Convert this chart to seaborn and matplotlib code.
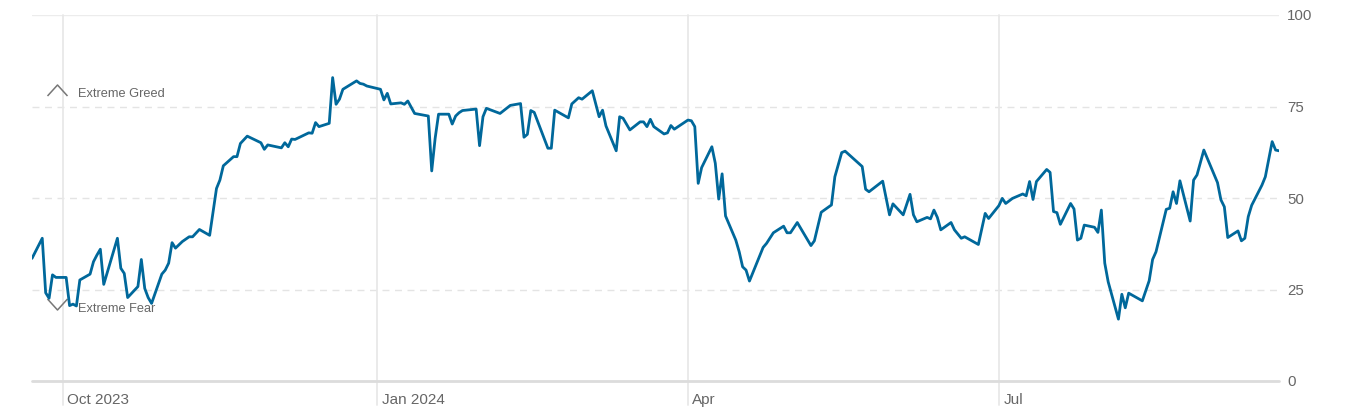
import matplotlib
matplotlib.use("Agg")
import matplotlib.pyplot as plt
import matplotlib.transforms as mtransforms
from matplotlib.path import Path
import pandas as pd
import seaborn as sns

# ---------------- data ----------------
dates = [
    "2023-09-22", "2023-09-25", "2023-09-26", "2023-09-27", "2023-09-28", "2023-09-29",
    "2023-10-02", "2023-10-03", "2023-10-04", "2023-10-05", "2023-10-06", "2023-10-09",
    "2023-10-10", "2023-10-11", "2023-10-12", "2023-10-13", "2023-10-17", "2023-10-18",
    "2023-10-19", "2023-10-20", "2023-10-23", "2023-10-24", "2023-10-25", "2023-10-26",
    "2023-10-27", "2023-10-30", "2023-10-31", "2023-11-01", "2023-11-02", "2023-11-03",
    "2023-11-05", "2023-11-07", "2023-11-08", "2023-11-10", "2023-11-13", "2023-11-15",
    "2023-11-16", "2023-11-17", "2023-11-20", "2023-11-21", "2023-11-22", "2023-11-24",
    "2023-11-28", "2023-11-29", "2023-11-30", "2023-12-04", "2023-12-05", "2023-12-06",
    "2023-12-07", "2023-12-08", "2023-12-12", "2023-12-13", "2023-12-14", "2023-12-15",
    "2023-12-18", "2023-12-19", "2023-12-20", "2023-12-21", "2023-12-22", "2023-12-26",
    "2023-12-27", "2023-12-28", "2023-12-29", "2024-01-02", "2024-01-03", "2024-01-04",
    "2024-01-05", "2024-01-08", "2024-01-09", "2024-01-10", "2024-01-12", "2024-01-16",
    "2024-01-17", "2024-01-18", "2024-01-19", "2024-01-22", "2024-01-23", "2024-01-24",
    "2024-01-25", "2024-01-26", "2024-01-30", "2024-01-31", "2024-02-01", "2024-02-02",
    "2024-02-06", "2024-02-09", "2024-02-12", "2024-02-13", "2024-02-14", "2024-02-15",
    "2024-02-16", "2024-02-20", "2024-02-21", "2024-02-22", "2024-02-26", "2024-02-27",
    "2024-02-29", "2024-03-01", "2024-03-04", "2024-03-06", "2024-03-07", "2024-03-08",
    "2024-03-11", "2024-03-12", "2024-03-13", "2024-03-15", "2024-03-18", "2024-03-19",
    "2024-03-20", "2024-03-21", "2024-03-22", "2024-03-25", "2024-03-26", "2024-03-27",
    "2024-03-28", "2024-04-01", "2024-04-02", "2024-04-03", "2024-04-04", "2024-04-05",
    "2024-04-08", "2024-04-09", "2024-04-10", "2024-04-11", "2024-04-12", "2024-04-15",
    "2024-04-16", "2024-04-17", "2024-04-18", "2024-04-19", "2024-04-23", "2024-04-24",
    "2024-04-26", "2024-04-29", "2024-04-30", "2024-05-01", "2024-05-03", "2024-05-07",
    "2024-05-08", "2024-05-10", "2024-05-13", "2024-05-14", "2024-05-16", "2024-05-17",
    "2024-05-22", "2024-05-23", "2024-05-24", "2024-05-28", "2024-05-30", "2024-05-31",
    "2024-06-03", "2024-06-05", "2024-06-06", "2024-06-07", "2024-06-10", "2024-06-11",
    "2024-06-12", "2024-06-13", "2024-06-14", "2024-06-17", "2024-06-18", "2024-06-20",
    "2024-06-21", "2024-06-25", "2024-06-27", "2024-06-28", "2024-07-01", "2024-07-02",
    "2024-07-03", "2024-07-05", "2024-07-08", "2024-07-09", "2024-07-10", "2024-07-11",
    "2024-07-12", "2024-07-15", "2024-07-16", "2024-07-17", "2024-07-18", "2024-07-19",
    "2024-07-22", "2024-07-23", "2024-07-24", "2024-07-25", "2024-07-26", "2024-07-29",
    "2024-07-30", "2024-07-31", "2024-08-01", "2024-08-02", "2024-08-05", "2024-08-06",
    "2024-08-07", "2024-08-08", "2024-08-12", "2024-08-14", "2024-08-15", "2024-08-16",
    "2024-08-19", "2024-08-20", "2024-08-21", "2024-08-22", "2024-08-23", "2024-08-26",
    "2024-08-27", "2024-08-28", "2024-08-30", "2024-09-03", "2024-09-04", "2024-09-05",
    "2024-09-06", "2024-09-09", "2024-09-10", "2024-09-11", "2024-09-12", "2024-09-13",
    "2024-09-16", "2024-09-17", "2024-09-19", "2024-09-20", "2024-09-21",
]
fear_greed = [
    33.5, 39.0, 24.1, 22.6, 29.0, 28.3,
    28.3, 20.6, 21.0, 20.5, 27.6, 29.2,
    32.6, 34.4, 36.0, 26.4, 39.0, 30.8,
    29.4, 22.8, 25.8, 33.2, 25.3, 22.8,
    21.2, 29.2, 30.3, 32.2, 37.8, 36.3,
    38.1, 39.4, 39.4, 41.4, 39.8, 52.6,
    54.9, 58.8, 61.3, 61.3, 64.9, 66.9,
    65.1, 63.3, 64.5, 63.7, 65.1, 64.0,
    66.1, 66.0, 67.8, 67.7, 70.6, 69.5,
    70.4, 82.9, 75.6, 77.0, 79.7, 82.0,
    81.3, 81.1, 80.6, 79.7, 76.8, 78.6,
    75.7, 76.0, 75.6, 76.5, 73.1, 72.4,
    57.4, 66.3, 72.9, 72.9, 70.2, 72.4,
    73.3, 73.9, 74.3, 64.3, 72.2, 74.5,
    73.1, 75.3, 75.8, 66.6, 67.4, 73.9,
    73.4, 63.6, 63.6, 74.0, 71.9, 75.7,
    77.4, 77.0, 79.3, 72.2, 74.0, 69.7,
    62.9, 72.2, 71.8, 68.6, 70.8, 70.8,
    69.5, 71.5, 69.5, 67.5, 67.8, 69.8,
    68.8, 71.3, 71.1, 69.5, 54.0, 58.3,
    64.0, 59.5, 49.7, 56.6, 45.1, 38.5,
    35.3, 31.2, 30.3, 27.3, 36.5, 37.6,
    40.5, 42.3, 40.5, 40.5, 43.3, 37.0,
    38.3, 46.1, 48.1, 55.8, 62.4, 62.8,
    58.6, 52.4, 51.7, 54.6, 45.4, 48.4,
    45.4, 51.0, 45.4, 43.5, 44.7, 44.3,
    46.7, 44.7, 41.3, 43.3, 41.3, 39.0,
    39.4, 37.3, 45.8, 44.4, 47.9, 49.9,
    48.5, 49.9, 51.1, 50.6, 54.5, 49.6,
    54.5, 57.8, 57.0, 46.3, 46.0, 42.8,
    48.5, 47.0, 38.5, 39.0, 42.6, 42.0,
    40.6, 46.7, 32.2, 27.1, 16.9, 23.7,
    20.0, 24.0, 21.9, 27.4, 33.2, 35.3,
    46.9, 47.2, 51.7, 48.5, 54.7, 43.7,
    54.9, 56.3, 63.1, 54.2, 49.5, 47.6,
    39.2, 41.0, 38.3, 39.0, 44.9, 48.0,
    53.5, 55.8, 65.4, 63.1, 62.9,
]
month_ticks = ["2023-10-01", "2024-01-01", "2024-04-01", "2024-07-01"]
month_labels = ["Oct 2023", "Jan 2024", "Apr", "Jul"]
y_ticks = [0, 25, 50, 75, 100]
zone_labels = ["Extreme Greed", "Extreme Fear"]
zone_marker_levels = [79.4, 21.1]
zone_text_levels = [77.6, 18.9]
x_range = ["2023-09-22", "2024-09-21"]

# ---------------- style ----------------
sns.set_theme(style="white")
plt.rcParams["font.family"] = ["Liberation Sans", "DejaVu Sans"]

LINE = "#00689b"
TXT = "#666666"
GRID = "#e4e4e4"

W, H = 1358, 418
fig = plt.figure(figsize=(W / 100, H / 100), dpi=100)
ax = fig.add_axes([32 / W, 37 / H, (1279 - 32) / W, 366 / H])

df = pd.DataFrame({"date": pd.to_datetime(dates), "value": fear_greed})
sns.lineplot(data=df, x="date", y="value", ax=ax, color=LINE, linewidth=2.0,
             zorder=5, estimator=None)

ax.set_xlim(pd.Timestamp(x_range[0]), pd.Timestamp(x_range[1]))
ax.set_ylim(0, 100)
ax.set_xlabel("")
ax.set_ylabel("")
for s in ax.spines.values():
    s.set_visible(False)

# horizontal grid
for v in y_ticks[1:-1]:
    ax.axhline(v, color=GRID, lw=1.0, ls=(0, (5, 4)), zorder=1)
ax.axhline(y_ticks[-1], color="#ececec", lw=1.0, zorder=1)
ax.axhline(y_ticks[0], color="#dcdcdc", lw=2.0, zorder=2, clip_on=False)

# vertical month lines (extend below the axis)
tick_dates = pd.to_datetime(month_ticks)
for d in tick_dates:
    ax.axvline(d, ymin=-0.066, ymax=1, color="#e8e8e8", lw=1.3,
               clip_on=False, zorder=1)

ax.set_xticks(tick_dates)
ax.set_xticklabels(month_labels)
ax.tick_params(axis="x", length=0, pad=16.6, labelsize=11, labelcolor=TXT)
offset = mtransforms.ScaledTranslation(4.5 / 100, 0, fig.dpi_scale_trans)
for lbl in ax.get_xticklabels():
    lbl.set_horizontalalignment("left")
    lbl.set_verticalalignment("baseline")
    lbl.set_transform(lbl.get_transform() + offset)

ax.yaxis.tick_right()
ax.set_yticks(y_ticks)
ax.set_yticklabels([str(v) for v in y_ticks])
ax.tick_params(axis="y", length=0, pad=6, labelsize=10.8, labelcolor=TXT)

# extreme zone markers
blend = mtransforms.blended_transform_factory(ax.transAxes, ax.transData)
up = Path([(-1, -0.55), (0, 0.55), (1, -0.55)],
          [Path.MOVETO, Path.LINETO, Path.LINETO])
down = Path([(-1, 0.55), (0, -0.55), (1, 0.55)],
            [Path.MOVETO, Path.LINETO, Path.LINETO])
for mk, lvl, tl, lab in zip([up, down], zone_marker_levels, zone_text_levels, zone_labels):
    ax.plot([0.0203], [lvl], transform=blend, marker=mk, ms=14.4,
            mfc="none", mec="#777777", mew=1.1, ls="none", zorder=3, clip_on=False)
    ax.text(0.0369, tl, lab, transform=blend, ha="left", va="baseline",
            fontsize=9.2, color=TXT, zorder=3)

fig.savefig("out.png", dpi=100, facecolor="white")
